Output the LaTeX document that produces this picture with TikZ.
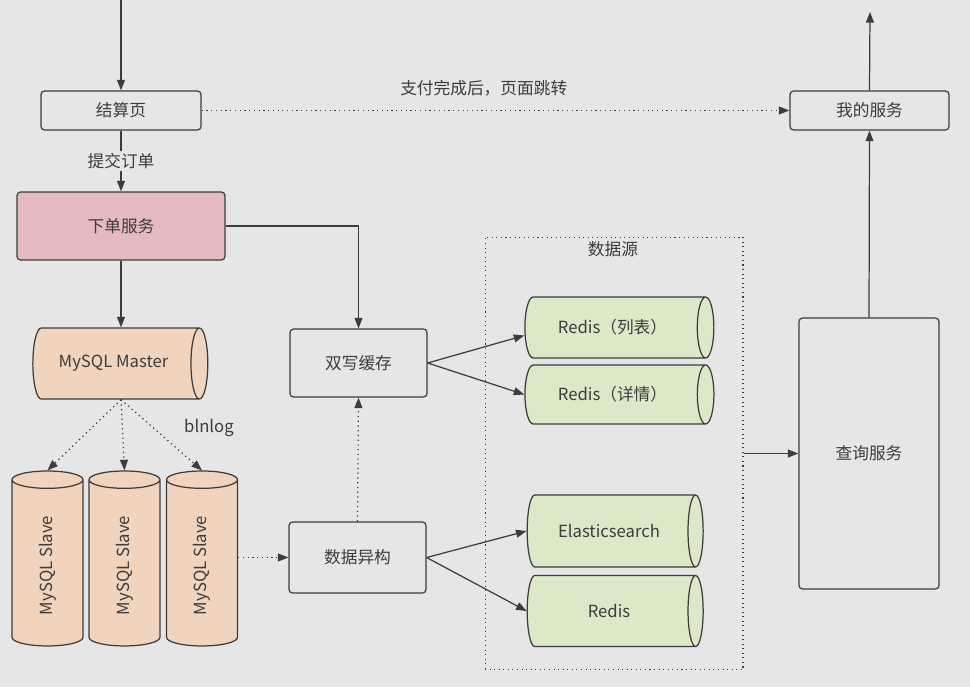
\documentclass[tikz,border=0pt]{standalone}
\usepackage{fontspec}
\setmainfont{Noto Sans CJK SC}
\usepackage{graphicx}
\usetikzlibrary{arrows.meta,positioning,calc,shapes.geometric}
\definecolor{bg}{RGB}{230,230,230}
\definecolor{ink}{RGB}{60,60,60}
\definecolor{pinkfill}{RGB}{229,186,191}
\definecolor{tanfill}{RGB}{240,212,190}
\definecolor{greenfill}{RGB}{220,233,200}
\tikzset{
	box/.style={draw=ink, rounded corners=2pt, align=center, fill=bg, line width=0.7pt},
	hdb/.style={draw=ink, cylinder, aspect=0.6, align=center, fill=tanfill, line width=0.7pt},
	vdb/.style={draw=ink, cylinder, shape border rotate=90, aspect=0.6, align=center, fill=tanfill, line width=0.7pt},
	cache/.style={hdb, fill=greenfill},
	flow/.style={-{Triangle[length=6pt,width=4.5pt]}, draw=ink, line width=0.7pt},
	sync/.style={-{Triangle[length=6pt,width=4.5pt]}, draw=ink, line width=0.7pt, dotted},
	group/.style={draw=ink, dotted, line width=0.6pt}
}

\begin{document}
\begin{tikzpicture}[x=0.02cm, y=-0.02cm, font=\fontsize{9.5}{11}\selectfont, text=ink]
	\fill[bg] (0,0) rectangle (970,687);
	\useasboundingbox (0,0) rectangle (970,687);
	\coordinate (entry) at (121,0);
	\coordinate (exit) at (870,12);
	\node[box, minimum width=3.2cm, minimum height=0.78cm] (checkout) at (121,110.5) {结算页};
	\node[box, minimum width=3.18cm, minimum height=0.78cm] (mine) at (869.5,110.5) {我的服务};
	\node[box, fill=pinkfill, minimum width=4.16cm, minimum height=1.36cm] (order) at (121,226) {下单服务};
	\node[hdb, minimum height=3.5cm, minimum width=1.42cm] (master) at (113.5,363.5) {MySQL Master};
	\foreach \x/\n in {47.5/slavea, 124.5/slaveb, 202/slavec}
		\node[vdb, minimum width=1.42cm, minimum height=3.5cm] (\n) at (\x,565.5) {\rotatebox{90}{MySQL Slave}};
	\node at (209,428) {blnlog};
	\node[box, minimum width=2.74cm, minimum height=1.36cm] (dualwrite) at (358.5,363) {双写缓存};
	\node[box, minimum width=2.74cm, minimum height=1.42cm] (hetero) at (357.5,557.5) {数据异构};
	\node[group, minimum width=5.16cm, minimum height=8.66cm] (source) at (614,453.5) {};
	\node at (613,249) {数据源};
	\node[cache, minimum height=3.78cm, minimum width=1.22cm] (listcache) at (612.5,327.5) {Redis（列表）};
	\node[cache, minimum height=3.78cm, minimum width=1.18cm] (detailcache) at (612.5,394.5) {Redis（详情）};
	\node[cache, minimum height=3.52cm, minimum width=1.44cm] (es) at (609,531) {Elasticsearch};
	\node[cache, minimum height=3.52cm, minimum width=1.42cm] (redis) at (609,611) {Redis};
	\node[box, minimum width=2.8cm, minimum height=5.42cm] (query) at (869,453.5) {查询服务};
	\draw[flow] (entry) -- (checkout.north);
	\draw[flow] (checkout.south) -- node[fill=bg, inner sep=1pt] {提交订单} (order.north);
	\draw[sync] (checkout.east) -- node[pos=0.48, above=1.5mm] {支付完成后，页面跳转} (mine.west);
	\draw[flow] (order.south) -- (order.south |- master.north);
	\draw[flow] (order.east) -| (dualwrite.north);
	\foreach \n in {slavea, slaveb, slavec}
		\draw[sync] (order.south |- master.south) -- (\n.north);
	\draw[sync] (slavec.east |- hetero.west) -- (hetero.west);
	\draw[sync] (hetero.north) -- (dualwrite.south);
	\draw[flow] (dualwrite.east) -- ($(listcache.west)+(0,8)$);
	\draw[flow] (dualwrite.east) -- (detailcache.west);
	\draw[flow] (hetero.east) -- (es.west);
	\draw[flow] (hetero.east) -- (redis.west);
	\draw[flow] (source.east) -- (query.west);
	\draw[flow] (query.north) -- (mine.south);
	\draw[flow] (mine.north) -- (exit);
\end{tikzpicture}
\end{document}
